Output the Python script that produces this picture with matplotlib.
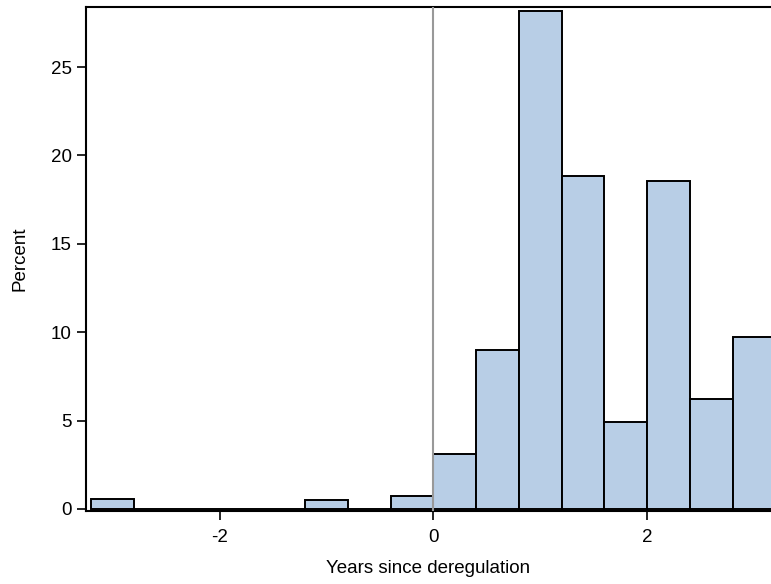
import numpy as np
import matplotlib
matplotlib.use('Agg')
import matplotlib.pyplot as plt

# histogram bins (width 0.4 years) and percent per bin
bin_left = [-3.2, -2.8, -2.4, -2.0, -1.6, -1.2, -0.8, -0.4,
            0.0, 0.4, 0.8, 1.2, 1.6, 2.0, 2.4, 2.8]
percent = [0.58, 0.0, 0.0, 0.0, 0.0, 0.48, 0.0, 0.72,
           3.08, 8.97, 28.16, 18.84, 4.89, 18.56, 6.24, 9.73]
bin_width = 0.4
xticks = [-2, 0, 2]
yticks = [0, 5, 10, 15, 20, 25]

plt.rcParams['font.family'] = ['Liberation Sans', 'DejaVu Sans']
plt.rcParams['font.size'] = 13.5
plt.rcParams['axes.unicode_minus'] = False

fig = plt.figure(figsize=(7.71, 5.84), dpi=100)
ax = fig.add_axes([0.1115, 0.125, 0.8885, 0.863])

ax.bar(bin_left, percent, width=bin_width, align='edge',
       color='#b8cee6', edgecolor='black', linewidth=1.4, zorder=2)
ax.axvline(0, color='#999999', linewidth=1.5, zorder=3)

ax.set_xlim(-3.25, 3.16)
ax.set_ylim(-0.12, 28.4)
ax.set_xticks(xticks)
ax.set_yticks(yticks)
ax.tick_params(direction='out', length=6.3, width=1.2, color='black')
ax.tick_params(axis='y', pad=4)
ax.tick_params(axis='x', pad=7)
for s in ['left', 'bottom', 'top']:
    ax.spines[s].set_linewidth(1.5)
ax.spines['right'].set_visible(False)

ax.set_xlabel('Years since deregulation', labelpad=10)
ax.set_ylabel('Percent', labelpad=16)

fig.savefig('out.png', dpi=100)
